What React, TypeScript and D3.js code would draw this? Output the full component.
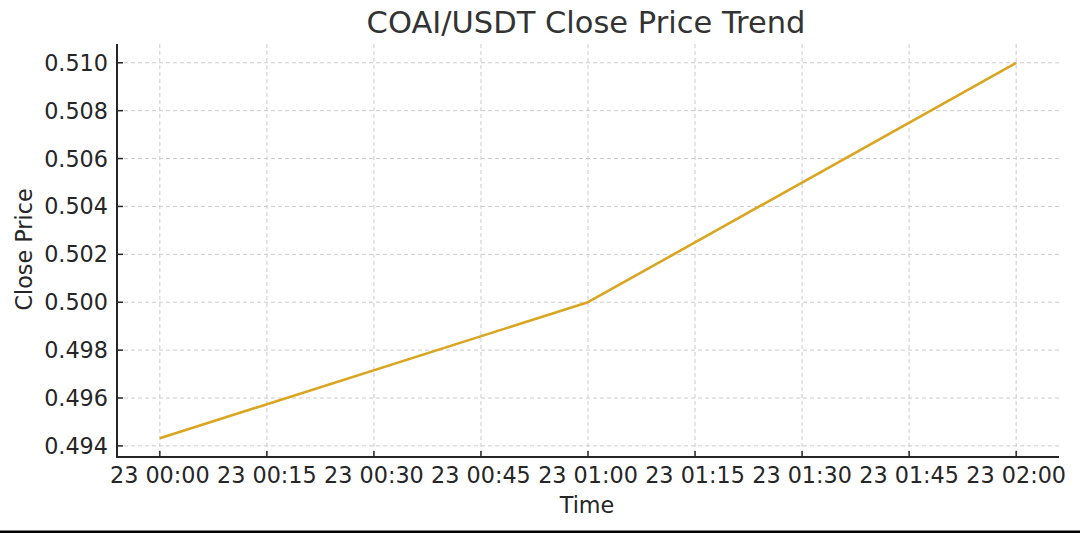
import React from "react";
import * as d3 from "d3";

const times: string[] = ["2025-10-23T00:00:00Z", "2025-10-23T01:00:00Z", "2025-10-23T02:00:00Z"];
const closePrices: number[] = [0.49432, 0.5, 0.51];
const yTicks: number[] = [0.494, 0.496, 0.498, 0.5, 0.502, 0.504, 0.506, 0.508, 0.51];
const xTickTimes: string[] = [
  "2025-10-23T00:00:00Z", "2025-10-23T00:15:00Z", "2025-10-23T00:30:00Z",
  "2025-10-23T00:45:00Z", "2025-10-23T01:00:00Z", "2025-10-23T01:15:00Z",
  "2025-10-23T01:30:00Z", "2025-10-23T01:45:00Z", "2025-10-23T02:00:00Z",
];
const xTickLabels: string[] = [
  "23 00:00", "23 00:15", "23 00:30", "23 00:45", "23 01:00",
  "23 01:15", "23 01:30", "23 01:45", "23 02:00",
];

const W = 1080;
const H = 533;
const M = { left: 117, right: 1059, top: 44, bottom: 457 };
const FONT = "'DejaVu Sans', sans-serif";
const TEXT = "#262626";
const TICK_FS = 22.3;

export default function App() {
  const dates = times.map((t) => new Date(t));
  const tExt = d3.extent(dates, (d) => d.getTime()) as [number, number];
  const tPad = (tExt[1] - tExt[0]) * 0.05;
  const x = d3
    .scaleTime()
    .domain([new Date(tExt[0] - tPad), new Date(tExt[1] + tPad)])
    .range([M.left, M.right]);
  const yExt = d3.extent(closePrices) as [number, number];
  const yPad = (yExt[1] - yExt[0]) * 0.05;
  const y = d3
    .scaleLinear()
    .domain([yExt[0] - yPad, yExt[1] + yPad])
    .range([M.bottom, M.top]);

  const pts: [Date, number][] = dates.map((d, i) => [d, closePrices[i]]);
  const line = d3
    .line<[Date, number]>()
    .x((d) => x(d[0]))
    .y((d) => y(d[1]));

  const xt = xTickTimes.map((t) => new Date(t));

  return (
    <svg
      width={W}
      height={H}
      style={{ position: "absolute", top: 0, left: 0, background: "#fff" }}
      fontFamily={FONT}
    >
      <rect x={0} y={0} width={W} height={H} fill="#fff" />
      {/* grid */}
      {xt.map((d, i) => (
        <line
          key={"gx" + i}
          x1={x(d)}
          x2={x(d)}
          y1={M.top}
          y2={M.bottom}
          stroke="#cccccc"
          strokeWidth={1}
          strokeDasharray="4,3"
        />
      ))}
      {yTicks.map((v, i) => (
        <line
          key={"gy" + i}
          x1={M.left}
          x2={M.right}
          y1={y(v)}
          y2={y(v)}
          stroke="#cccccc"
          strokeWidth={1}
          strokeDasharray="4,3"
        />
      ))}
      {/* data line */}
      <path d={line(pts) || ""} fill="none" stroke="#DAA520" strokeWidth={2.6} strokeLinejoin="round" />
      {/* spines */}
      <line x1={M.left} x2={M.left} y1={M.top} y2={M.bottom + 1} stroke={TEXT} strokeWidth={2} />
      <line x1={M.left - 1} x2={M.right} y1={M.bottom} y2={M.bottom} stroke={TEXT} strokeWidth={2} />
      {/* y ticks */}
      {yTicks.map((v, i) => (
        <g key={"yt" + i}>
          <line x1={M.left} x2={M.left + 6} y1={y(v)} y2={y(v)} stroke={TEXT} strokeWidth={1.5} />
          <text
            x={M.left - 9}
            y={y(v)}
            textAnchor="end"
            dominantBaseline="central"
            fontSize={TICK_FS}
            fill={TEXT}
          >
            {v.toFixed(3)}
          </text>
        </g>
      ))}
      {/* x ticks */}
      {xt.map((d, i) => (
        <g key={"xt" + i}>
          <line x1={x(d)} x2={x(d)} y1={M.bottom} y2={M.bottom - 6} stroke={TEXT} strokeWidth={1.5} />
          <text x={x(d)} y={483} textAnchor="middle" fontSize={TICK_FS} fill={TEXT}>
            {xTickLabels[i]}
          </text>
        </g>
      ))}
      {/* axis labels */}
      <text x={587} y={512.5} textAnchor="middle" fontSize={TICK_FS} fill={TEXT}>
        Time
      </text>
      <text
        transform={`translate(32,${(M.top + M.bottom) / 2 - 1}) rotate(-90)`}
        textAnchor="middle"
        fontSize={TICK_FS}
        fill={TEXT}
      >
        Close Price
      </text>
      {/* title */}
      <text x={586} y={33} textAnchor="middle" fontSize={30.5} fill="#333333">
        COAI/USDT Close Price Trend
      </text>
      {/* bottom border */}
      <rect x={0} y={530.5} width={W} height={2.5} fill="#000" />
    </svg>
  );
}
